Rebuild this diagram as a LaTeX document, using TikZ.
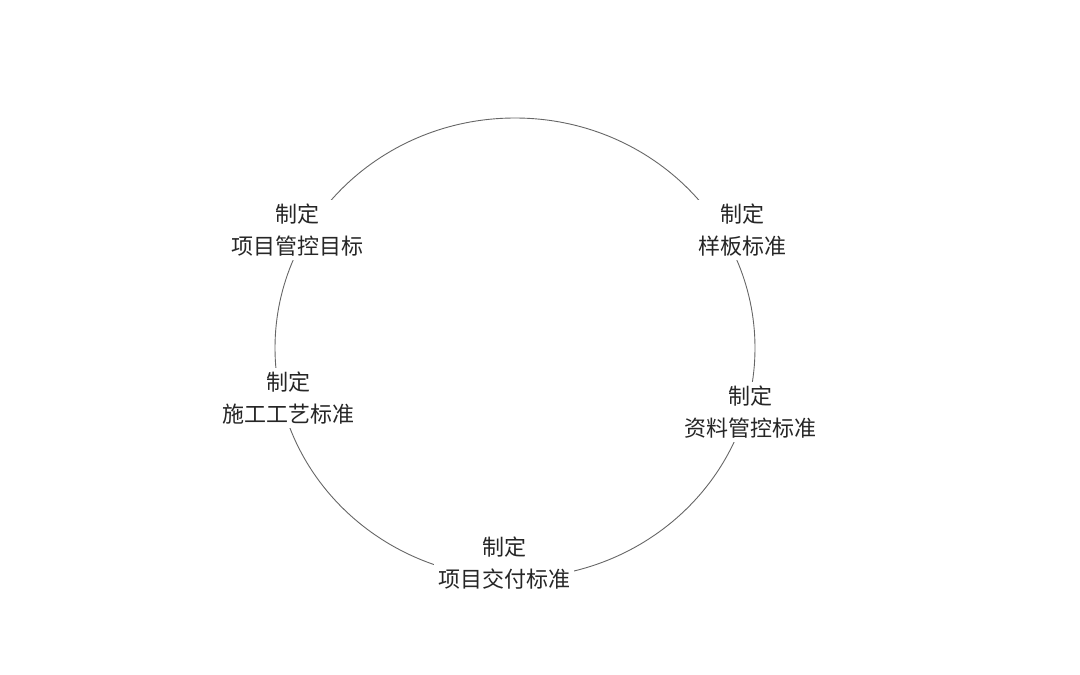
\documentclass[tikz,border=0pt]{standalone}
\usepackage{fontspec}
\setmainfont{Noto Sans CJK SC}
\begin{document}
\begin{tikzpicture}[x=1pt,y=-1pt,
  lab/.style={fill=white,align=center,font=\fontsize{22}{32}\selectfont,inner sep=4pt,text=black!85}]
\useasboundingbox (0,0) rectangle (1080,675);
\draw[black!60,line width=0.9pt] (515,348) ellipse [x radius=240, y radius=230];
\node[lab] (a) at (297,230) {制定\\项目管控目标};
\node[lab] (b) at (742,230) {制定\\样板标准};
\node[lab] (c) at (288,398) {制定\\施工工艺标准};
\node[lab] (d) at (750,412) {制定\\资料管控标准};
\node[lab] (e) at (504,563) {制定\\项目交付标准};
\end{tikzpicture}
\end{document}
